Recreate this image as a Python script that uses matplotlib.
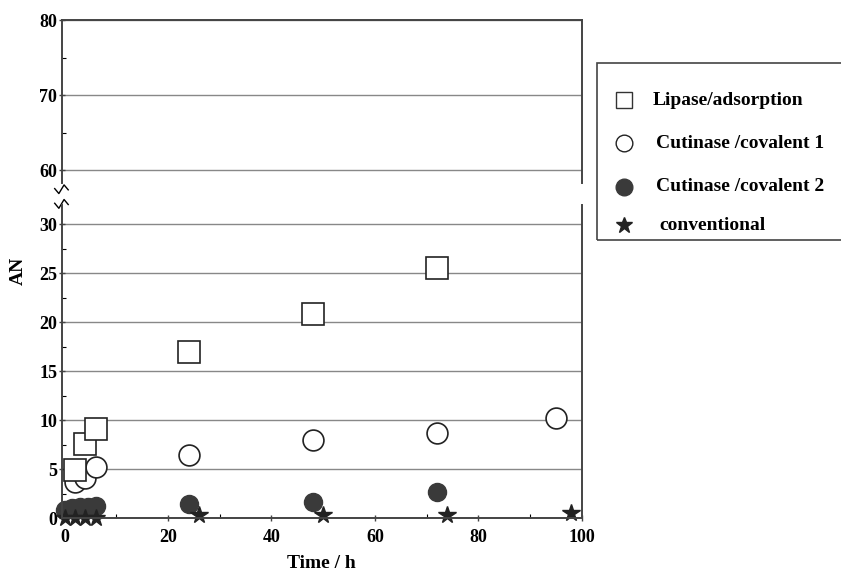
import matplotlib
matplotlib.use("Agg")
import matplotlib.pyplot as plt
from matplotlib.lines import Line2D
from matplotlib.patches import Rectangle
from matplotlib.ticker import MultipleLocator

plt.rcParams["font.family"] = ["Liberation Serif", "DejaVu Serif"]
plt.rcParams["font.weight"] = "bold"

# data
lipase_t = [2, 4, 6, 24, 48, 72]
lipase_an = [4.9, 7.6, 9.1, 17.0, 20.9, 25.5]

cov1_t = [2, 4, 6, 24, 48, 72, 95]
cov1_an = [3.7, 4.1, 5.2, 6.4, 8.0, 8.7, 10.2]

cov2_t = [0, 1.5, 3, 4.5, 6, 24, 48, 72]
cov2_an = [0.8, 1.0, 1.1, 1.1, 1.2, 1.4, 1.7, 2.7]

conv_t = [0, 2, 4, 6, 26, 50, 74, 98]
conv_an = [0.0, 0.0, 0.0, 0.0, 0.3, 0.3, 0.3, 0.5]

labels = ["Lipase/adsorption", "Cutinase /covalent 1",
          "Cutinase /covalent 2", "conventional"]

fig = plt.figure(figsize=(8.41, 5.77), dpi=100)
L, W = 0.0737, 0.618
ax_top = fig.add_axes([L, 0.683, W, 0.282])
ax = fig.add_axes([L, 0.102, W, 0.543])

axis_col = "#444444"
grid_col = "#888888"


def style(a):
    for s in a.spines.values():
        s.set_color(axis_col)
        s.set_linewidth(1.4)
    a.tick_params(colors=axis_col, labelcolor="black", labelsize=13,
                  width=1.0, length=5, direction="inout", pad=1)
    a.tick_params(which="minor", length=3, direction="in", width=0.8)
    a.yaxis.grid(True, which="major", color=grid_col, linewidth=1.0)
    a.set_axisbelow(True)
    a.set_xlim(-0.5, 100)


def draw_series(a):
    a.plot(cov2_t, cov2_an, "o", ms=13, mfc="#3a3a3a", mec="#3a3a3a", clip_on=False)
    a.plot(conv_t, conv_an, "*", ms=13, color="#222222", clip_on=False)
    a.plot(cov1_t, cov1_an, "o", ms=15, mfc="white", mec="#222222", mew=1.2, clip_on=False)
    a.plot(lipase_t, lipase_an, "s", ms=16, mfc="white", mec="#222222", mew=1.2, clip_on=False)


# top panel
style(ax_top)
ax_top.set_ylim(58.3, 80)
ax_top.yaxis.set_major_locator(MultipleLocator(10))
ax_top.yaxis.set_minor_locator(MultipleLocator(5))
ax_top.set_xticks([])
ax_top.spines["bottom"].set_visible(False)

# bottom panel
style(ax)
draw_series(ax)
ax.set_ylim(0, 32)
ax.yaxis.set_major_locator(MultipleLocator(5))
ax.yaxis.set_minor_locator(MultipleLocator(2.5))
ax.xaxis.set_major_locator(MultipleLocator(20))
ax.xaxis.set_minor_locator(MultipleLocator(10))
ax.tick_params(axis="x", pad=5)
ax.spines["top"].set_visible(False)
ax.set_xlabel("Time / h", fontsize=14, fontweight="bold", labelpad=7)
ax.set_ylabel("AN", fontsize=14, fontweight="bold")
ax.yaxis.set_label_coords(-0.068, 0.79)

# break marks on the left spine
zx = [-0.014, -0.006, 0.004, 0.012]
zy = [0.0, -0.016, 0.012, -0.004]
ax_top.plot(zx, [y - 0.035 for y in [v * 1.9 for v in zy]], transform=ax_top.transAxes,
            color="black", lw=1.0, clip_on=False)
ax.plot(zx, [y + 1.005 for y in zy], transform=ax.transAxes,
        color="black", lw=1.0, clip_on=False)

# legend box
fig.add_artist(Rectangle((0.71, 0.584), 0.30, 0.307, transform=fig.transFigure,
                         fill=False, edgecolor=axis_col, linewidth=1.2))
rows = [0.826, 0.752, 0.676, 0.610]
handles = [
    dict(marker="s", ms=12, mfc="white", mec="#333333"),
    dict(marker="o", ms=12, mfc="white", mec="#222222"),
    dict(marker="o", ms=12, mfc="#3a3a3a", mec="#3a3a3a"),
    dict(marker="*", ms=12, mfc="#222222", mec="#222222"),
]
text_x = [0.776, 0.780, 0.780, 0.784]
for y, h, lab, tx in zip(rows, handles, labels, text_x):
    fig.add_artist(Line2D([0.742], [y], transform=fig.transFigure, linestyle="none", **h))
    fig.text(tx, y, lab, fontsize=14, fontweight="bold", va="center", ha="left")

fig.savefig("out.png", dpi=100)
